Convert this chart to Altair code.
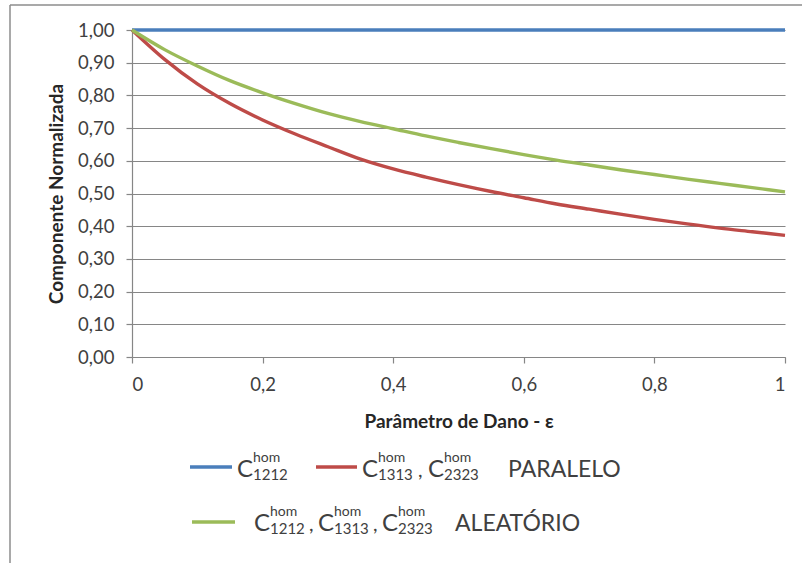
import altair as alt
import pandas as pd

# ---------------- data ----------------
eps = [0.00, 0.05, 0.10, 0.15, 0.20, 0.25, 0.30, 0.35, 0.40, 0.45, 0.50,
       0.55, 0.60, 0.65, 0.70, 0.75, 0.80, 0.85, 0.90, 0.95, 1.00]

c1212_paralelo = [1.00, 1.00, 1.00, 1.00, 1.00, 1.00, 1.00, 1.00, 1.00, 1.00, 1.00,
                  1.00, 1.00, 1.00, 1.00, 1.00, 1.00, 1.00, 1.00, 1.00, 1.00]

c1313_2323_paralelo = [1.000, 0.910, 0.835, 0.775, 0.725, 0.682, 0.643, 0.605, 0.575, 0.550, 0.527,
                       0.506, 0.487, 0.468, 0.452, 0.436, 0.421, 0.407, 0.394, 0.383, 0.372]

todos_aleatorio = [1.000, 0.940, 0.890, 0.845, 0.808, 0.775, 0.745, 0.720, 0.698, 0.676, 0.656,
                   0.637, 0.619, 0.602, 0.587, 0.572, 0.558, 0.544, 0.531, 0.518, 0.505]

series_names = ["C1212 paralelo", "C1313,C2323 paralelo", "aleatório"]
series_colors = ["#4A7EBB", "#BE4B48", "#9BBB59"]

x_ticks = [0, 0.2, 0.4, 0.6, 0.8, 1.0]
y_ticks = [0.0, 0.1, 0.2, 0.3, 0.4, 0.5, 0.6, 0.7, 0.8, 0.9, 1.0]

rows = []
for name, vals in zip(series_names, [c1212_paralelo, c1313_2323_paralelo, todos_aleatorio]):
    for e, v in zip(eps, vals):
        rows.append({"eps": e, "valor": v, "serie": name})
df = pd.DataFrame(rows)

# ---------------- layout constants ----------------
FONT = "Lato"
TXT = "#404040"
OX, OY = 132, 30          # plot origin in page pixels
W, H = 653, 327

one = pd.DataFrame({"k": [0]})


def px(x):
    return alt.value(x - OX)


def py(y):
    return alt.value(y - OY)


def text(s, x, y, size, weight="normal"):
    return alt.Chart(one).mark_text(
        text=s, font=FONT, fontSize=size, fontWeight=weight,
        align="left", baseline="alphabetic", color=TXT
    ).encode(x=px(x), y=py(y))


def hline(x1, x2, y, color, width=3.5):
    return alt.Chart(one).mark_rule(color=color, strokeWidth=width).encode(
        x=px(x1), x2=px(x2), y=py(y))


def cgroup(x, base, digits):
    """C with superscript 'hom' and subscript digits."""
    return [
        text("C", x, base, 24),
        text("hom", x + 16, base - 15, 14),
        text(digits, x + 16, base + 3, 15),
    ]


# ---------------- main chart ----------------
lines = alt.Chart(df).mark_line(strokeWidth=3.4, interpolate="monotone").encode(
    x=alt.X("eps:Q",
            scale=alt.Scale(domain=[0, 1], nice=False),
            axis=alt.Axis(values=x_ticks, format=".1~f",
                          labelExpr="replace(datum.label, '.', ',')",
                          title="Parâmetro de Dano - ε",
                          grid=False, tickSize=6, labelPadding=12,
                          titlePadding=19)),
    y=alt.Y("valor:Q",
            scale=alt.Scale(domain=[0, 1], nice=False),
            axis=alt.Axis(values=y_ticks, format=".2f",
                          labelExpr="replace(datum.label, '.', ',')",
                          title="Componente Normalizada",
                          grid=True, tickSize=6, labelPadding=12,
                          titlePadding=11)),
    color=alt.Color("serie:N",
                    scale=alt.Scale(domain=series_names, range=series_colors),
                    legend=None),
    order=alt.Order("eps:Q"),
)

# frame (top and left edge of the chart box)
frame = [
    alt.Chart(one).mark_rule(color="#8c8c8c", strokeWidth=1.5).encode(
        x=px(10), x2=px(802), y=py(5)),
    alt.Chart(one).mark_rule(color="#8c8c8c", strokeWidth=1.5).encode(
        x=px(10), y=py(5), y2=py(563)),
]

# custom legend
legend = []
legend.append(hline(190, 232, 467, series_colors[0]))
legend += cgroup(237, 477, "1212")
legend.append(hline(316, 357, 467, series_colors[1]))
legend += cgroup(362, 477, "1313")
legend.append(text(",", 418, 477, 20))
legend += cgroup(428, 477, "2323")
legend.append(text("PARALELO", 508, 477, 23))

legend.append(hline(192, 235, 522, series_colors[2]))
legend += cgroup(254, 531, "1212")
legend.append(text(",", 309, 531, 20))
legend += cgroup(318, 531, "1313")
legend.append(text(",", 373, 531, 20))
legend += cgroup(382, 531, "2323")
legend.append(text("ALEATÓRIO", 455, 531, 23))

chart = alt.layer(lines, *frame, *legend).properties(
    width=W, height=H,
    padding={"left": OX, "top": OY, "right": 802 - OX - W, "bottom": 563 - OY - H},
    autosize=alt.AutoSizeParams(type="none"),
    background="white",
).configure_view(stroke=None).configure_axis(
    labelFont=FONT, titleFont=FONT, labelFontSize=18.5, titleFontSize=19,
    labelColor=TXT, titleColor="#262626", titleFontWeight="bold",
    domainColor="#868686", tickColor="#868686", gridColor="#868686",
    domainWidth=1.2, tickWidth=1.2, gridWidth=1.2,
)

chart.save("out.html", embed_options={"renderer": "svg", "actions": False})
